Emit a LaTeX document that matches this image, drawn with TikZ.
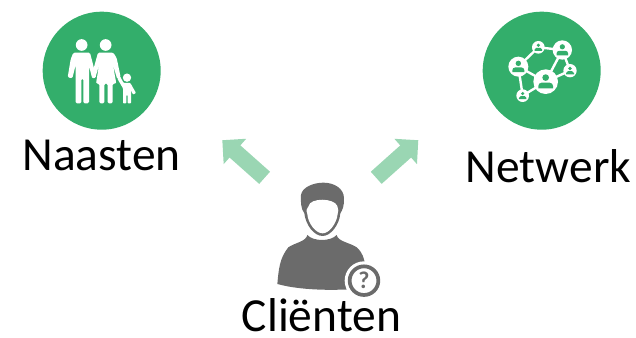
\documentclass[tikz,border=0pt]{standalone}
\usepackage{fontspec}
\setmainfont{Carlito}
\usetikzlibrary{arrows.meta}
\definecolor{badgegreen}{HTML}{33AE6B}
\definecolor{arrowgreen}{HTML}{9AD6B3}
\definecolor{persongrey}{HTML}{6B6B6B}
\begin{document}
\begin{tikzpicture}[
	x=0.75pt, y=-0.75pt,
	badge/.style={circle, fill=badgegreen, minimum size=88.5pt, inner sep=0pt},
	caption/.style={anchor=base, inner sep=0pt, font=\fontsize{35.6}{42}\selectfont},
	line/.style={draw=arrowgreen, line width=12.2pt, -{Triangle[width=24.7pt, length=12.7pt]}},
	icon/.style={fill=white, draw=none},
	grey/.style={fill=persongrey, draw=none},
	]
	\useasboundingbox (0,0) rectangle (636,338);

	\node [badge] (naasten) at (101.7,70.7) {};
	\node [badge] (netwerk) at (541.7,70.7) {};
	\node [caption] (naastenlabel) at (101.5,171) {Naasten};
	\node [caption] (netwerklabel) at (548.5,183) {Netwerk};
	\node [caption] (clientlabel) at (321.5,332) {Cliënten};

	\coordinate (clientleft) at (264.6,177.8);
	\coordinate (clientright) at (376.2,177.8);
	\coordinate (naastentip) at (222.3,140.2);
	\coordinate (netwerktip) at (418.3,140.2);
	\path [line] (clientleft) -- (naastentip);
	\path [line] (clientright) -- (netwerktip);

	% family
	\begin{scope}[shift={(30,0)}, x=0.25pt, y=-0.25pt]
		\fill [icon] (155,135) circle (17.5);
		\fill [icon] (227,135) circle (17.5);
		\fill [icon] (291,233) circle (12.5);
		\fill [icon, rounded corners=1pt] (130,158) -- (180,158) -- (199,232) -- (187,236) -- (177,198)
			-- (177,310) -- (160,310) -- (160,236) -- (154,236) -- (154,310) -- (137,310)
			-- (137,195) -- (127,235) -- (113,232) -- (122,178) -- cycle;
		\fill [icon, rounded corners=1pt] (204,158) -- (250,158) -- (260,174) -- (272,232)
			-- (262,238) -- (249,195) -- (259,251) -- (248,251) -- (248,310) -- (233,310)
			-- (233,251) -- (223,251) -- (223,310) -- (208,310) -- (208,251) -- (198,251)
			-- (207,195) -- (196,234) -- (184,230) -- cycle;
		\fill [icon, rounded corners=0.6pt] (262,236) -- (270,229) -- (281,249) -- (301,249)
			-- (318,279) -- (309,284) -- (303,270) -- (303,310) -- (293,310) -- (293,285)
			-- (289,285) -- (289,310) -- (279,310) -- (279,265) -- cycle;
	\end{scope}

	% network
	\begin{scope}[shift={(470,0)}, x=0.25pt, y=-0.25pt]
		\draw [white, line width=1.8pt] (145,200) -- (205,142) -- (277,150) -- (227,245)
			-- (145,200) -- (158,287) -- (227,245) -- (300,212) -- (277,150);
		\foreach \px/\py/\pr in {145/200/30, 205/142/19, 277/150/29, 300/212/20, 227/245/37, 158/287/19} {
			\fill [icon] (\px,\py) circle (\pr);
			\fill [badgegreen] (\px,\py-0.33*\pr) circle (0.27*\pr);
			\fill [badgegreen, rounded corners=\pr*0.07pt] (\px-0.6*\pr,\py+0.55*\pr) -- (\px-0.6*\pr,\py+0.08*\pr)
				-- (\px+0.6*\pr,\py+0.08*\pr) [sharp corners] -- (\px+0.6*\pr,\py+0.55*\pr) -- cycle;
		}
	\end{scope}

	% client
	\begin{scope}[shift={(210,130)}, x=0.25pt, y=-0.25pt]
		\fill [grey] (283,250) .. controls (272,235) and (272,215) .. (273,195)
			.. controls (276,172) and (310,158) .. (340,158)
			.. controls (372,158) and (402,175) .. (402,205)
			.. controls (403,225) and (398,240) .. (391,250)
			.. controls (388,285) and (362,318) .. (338,318)
			.. controls (312,318) and (287,285) .. (283,250) -- cycle;
		\fill [icon] (296,228) .. controls (300,203) and (372,203) .. (382,228)
			.. controls (385,238) and (386,244) .. (383,252)
			.. controls (380,280) and (358,310) .. (338,310)
			.. controls (317,310) and (294,280) .. (292,252)
			.. controls (288,242) and (290,234) .. (296,228) -- cycle;
		\fill [grey] (292,315) .. controls (310,335) and (362,335) .. (380,315)
			.. controls (384,335) and (420,338) .. (440,352)
			.. controls (458,368) and (463,385) .. (466,410)
			-- (420,478) .. controls (340,482) and (260,478) .. (202,462)
			.. controls (206,420) and (208,385) .. (235,352)
			.. controls (255,338) and (288,335) .. (292,315) -- cycle;
		\node [circle, fill=white, minimum size=29pt, inner sep=0pt] (questionbadge) at (462,452) {};
		\node [circle, draw=persongrey, line width=2.8pt, fill=white, minimum size=21.5pt, inner sep=0pt,
			text=persongrey, font=\fontsize{18}{18}\selectfont\bfseries] (question) at (462,452) {?};
	\end{scope}
\end{tikzpicture}
\end{document}
